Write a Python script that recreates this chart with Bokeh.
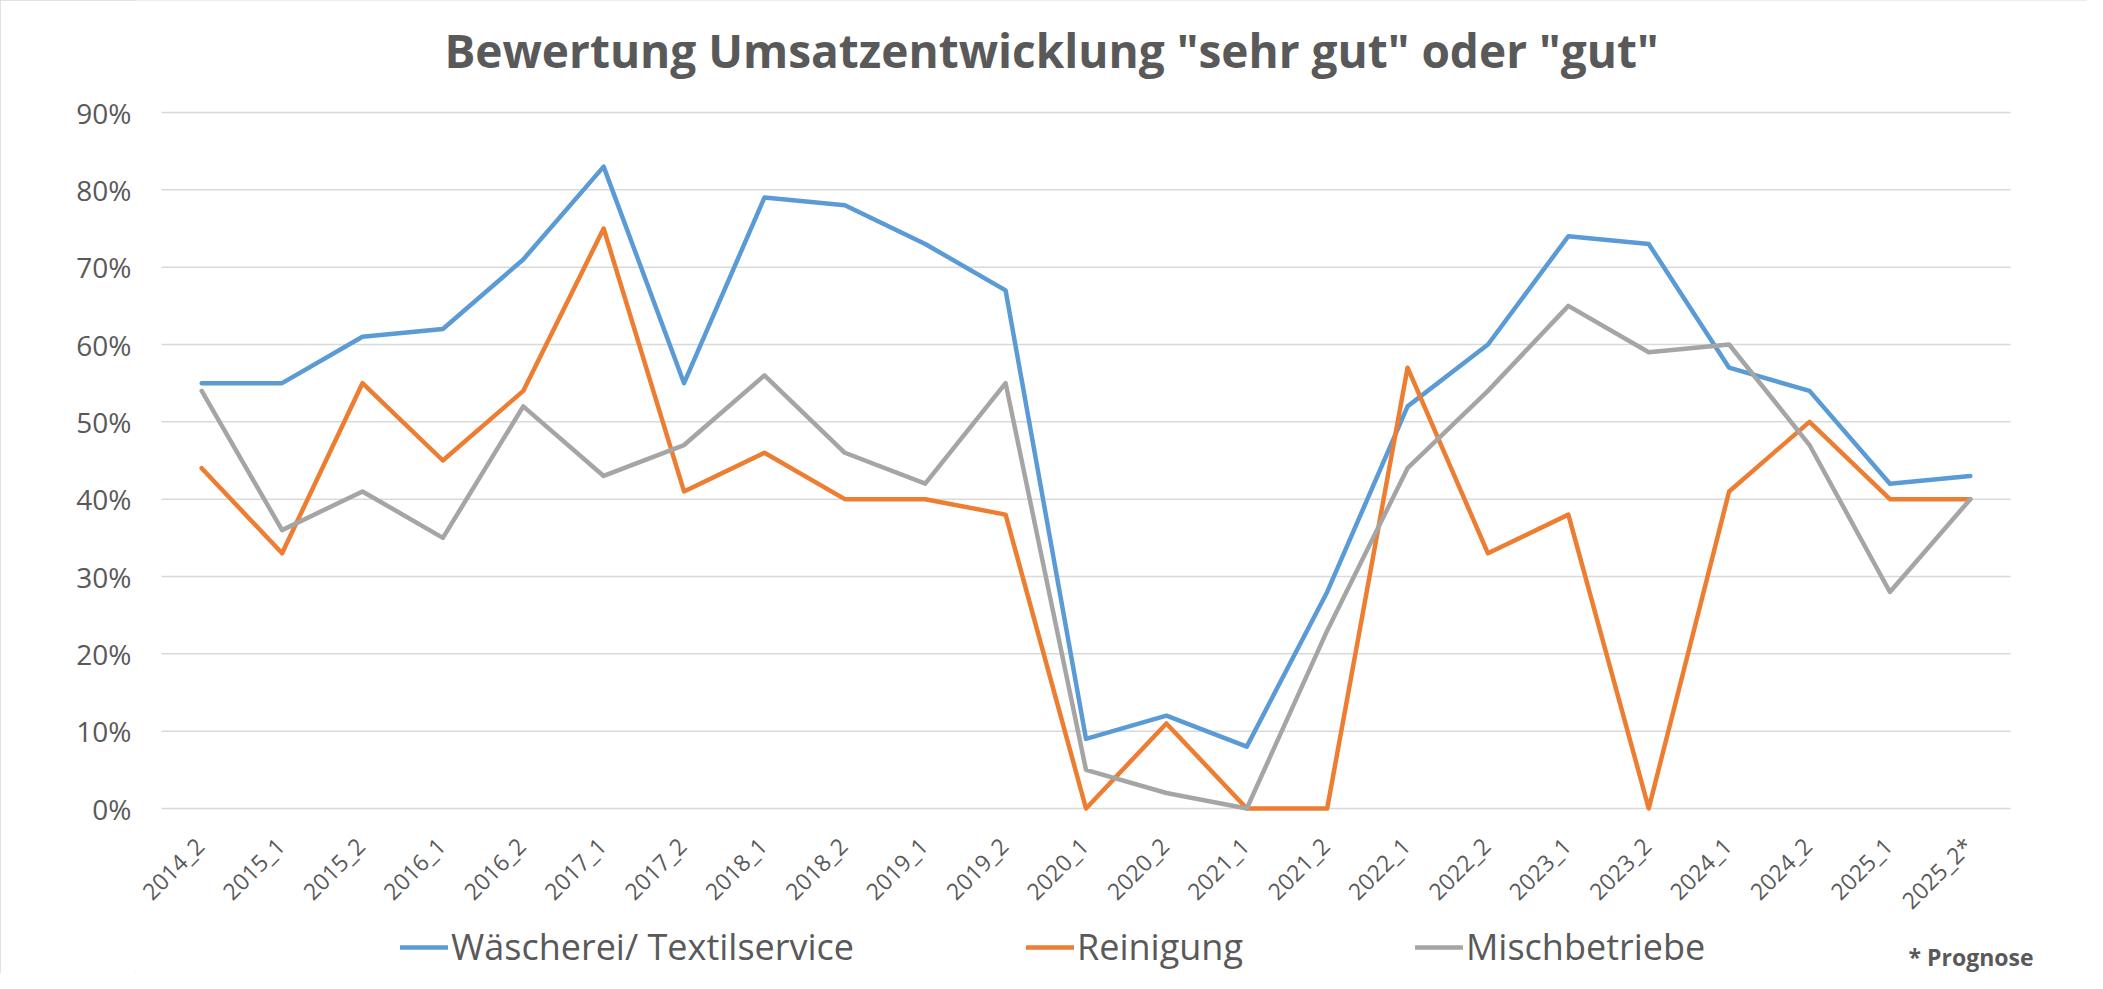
import math
from bokeh.plotting import figure
from bokeh.models import Range1d, FixedTicker, NumeralTickFormatter, Label, Legend, LegendItem
from bokeh.embed import file_html
from bokeh.resources import INLINE

# ---- data ----
categories = ["2014_2", "2015_1", "2015_2", "2016_1", "2016_2", "2017_1", "2017_2",
              "2018_1", "2018_2", "2019_1", "2019_2", "2020_1", "2020_2", "2021_1",
              "2021_2", "2022_1", "2022_2", "2023_1", "2023_2", "2024_1", "2024_2",
              "2025_1", "2025_2*"]
waescherei = [55, 55, 61, 62, 71, 83, 55, 79, 78, 73, 67, 9, 12, 8, 28, 52, 60, 74, 73, 57, 54, 42, 43]
reinigung = [44, 33, 55, 45, 54, 75, 41, 46, 40, 40, 38, 0, 11, 0, 0, 57, 33, 38, 0, 41, 50, 40, 40]
misch = [54, 36, 41, 35, 52, 43, 47, 56, 46, 42, 55, 5, 2, 0, 23, 44, 54, 65, 59, 60, 47, 28, 40]
series_names = ["Wäscherei/ Textilservice", "Reinigung", "Mischbetriebe"]
y_ticks = [0.0, 0.1, 0.2, 0.3, 0.4, 0.5, 0.6, 0.7, 0.8, 0.9]
title_text = 'Bewertung Umsatzentwicklung "sehr gut" oder "gut"'
note_text = "* Prognose"

# ---- styling / layout ----
TEXT = "#595959"
GRID = "#D9D9D9"
COLORS = ["#5B9BD5", "#ED7D31", "#A5A5A5"]
FONT = "Open Sans"

W, H = 2087, 973
LEFT = 135                      # frame left (y axis panel width)
PX_LEFT, PX_RIGHT = 161, 2010   # pixel span of the category area
PX_TOP, PX_ZERO = 112, 808      # pixel rows of 90% and 0%

n = len(categories)
ppu_x = (PX_RIGHT - PX_LEFT) / n
ppu_y = (PX_ZERO - PX_TOP) / 0.9
x_start = -0.5 - (PX_LEFT - LEFT) / ppu_x
x_end = x_start + (W - LEFT) / ppu_x
y_end = 0.9 + PX_TOP / ppu_y
y_start = -(H - PX_ZERO) / ppu_y


def dx(px):
    return x_start + (px - LEFT) / ppu_x


def dy(py):
    return (PX_ZERO - py) / ppu_y


p = figure(width=W, height=H, output_backend="svg", toolbar_location=None, title=None,
           x_axis_location=None,
           x_range=Range1d(x_start, x_end), y_range=Range1d(y_start, y_end),
           min_border_left=LEFT, min_border_right=0, min_border_top=0, min_border_bottom=0)
p.outline_line_color = None
p.background_fill_color = "white"
p.border_fill_color = "white"
p.styles = {"outline": "2px solid #D9D9D9", "outline-offset": "-2px"}
p.xgrid.visible = False
p.ygrid.visible = False

# horizontal gridlines over the category area
p.segment(x0=[-0.5] * len(y_ticks), x1=[n - 0.5] * len(y_ticks), y0=y_ticks, y1=y_ticks,
          line_color=GRID, line_width=1.5)

# y axis
ya = p.yaxis[0]
ya.ticker = FixedTicker(ticks=y_ticks)
ya.formatter = NumeralTickFormatter(format="0%")
ya.axis_line_color = None
ya.major_tick_line_color = None
ya.minor_tick_line_color = None
ya.major_tick_out = 0
ya.major_tick_in = 0
ya.major_label_standoff = LEFT - 131
ya.major_label_text_font = FONT
ya.major_label_text_font_size = "28px"
ya.major_label_text_color = TEXT

xs = list(range(n))

# category labels, rotated 45°
p.text(x=[x - 2 / ppu_x for x in xs], y=[dy(PX_ZERO + 33)] * n, text=categories,
       angle=math.pi / 4, text_align="right", text_baseline="middle",
       text_font={"value": FONT}, text_font_size={"value": "23px"}, text_color=TEXT)

renderers = []
for vals, col in zip([waescherei, reinigung, misch], COLORS):
    r = p.line(xs, [v / 100 for v in vals], line_color=col, line_width=4.5,
               line_join="round", line_cap="round")
    renderers.append(r)

legend = Legend(items=[LegendItem(label=nm, renderers=[r]) for nm, r in zip(series_names, renderers)],
                orientation="horizontal", location=(400 - LEFT, 2),
                glyph_width=48, glyph_height=36, label_height=36, label_standoff=3, spacing=172,
                padding=0, margin=0, border_line_color=None, background_fill_alpha=0,
                label_text_font=FONT, label_text_font_size="36px", label_text_color=TEXT)
p.add_layout(legend)

p.add_layout(Label(x=dx(1051), y=dy(49), text=title_text, text_align="center", text_baseline="middle",
                   text_font=FONT, text_font_style="bold", text_font_size="46px", text_color=TEXT))
p.add_layout(Label(x=dx(1908), y=dy(956), text=note_text, text_align="left", text_baseline="middle",
                   text_font=FONT, text_font_style="bold", text_font_size="23px", text_color=TEXT))

open("out.html", "w").write(file_html(p, INLINE))
